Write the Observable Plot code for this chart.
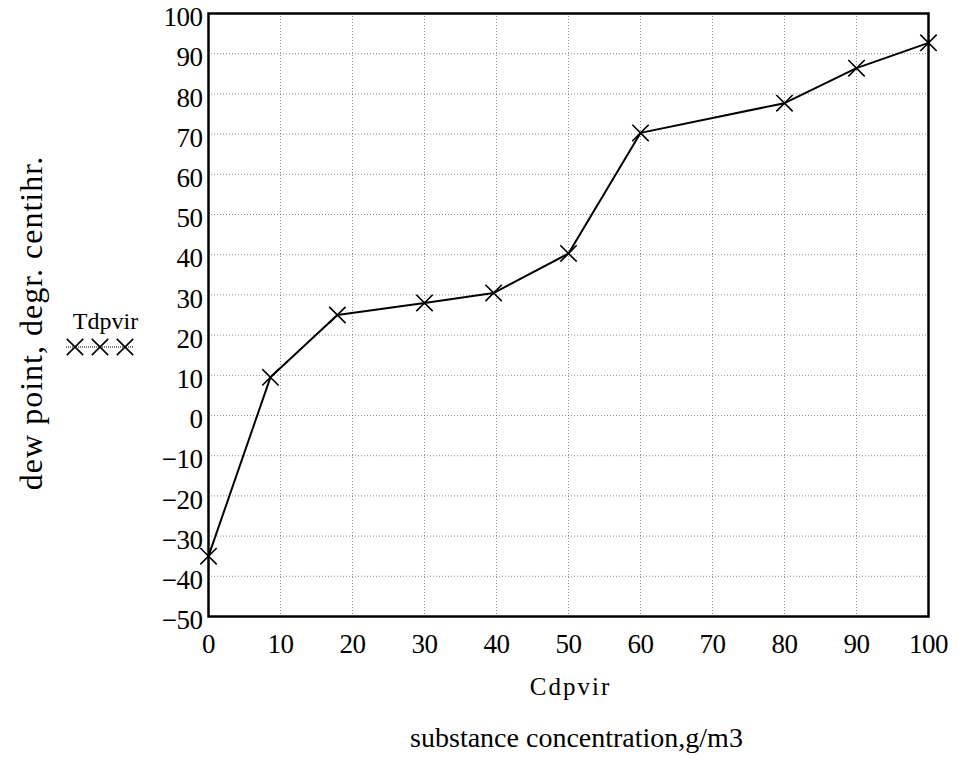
<!DOCTYPE html>
<html>
<head>
<meta charset="utf-8">
<script src="https://cdn.jsdelivr.net/npm/d3@7"></script>
<script src="https://cdn.jsdelivr.net/npm/@observablehq/plot@0.6"></script>
<style>
  html, body { margin: 0; padding: 0; background: #fff; }
  svg { font-family: "Liberation Serif", "Times New Roman", serif; }
</style>
</head>
<body>
<div id="chart"></div>
<script>
const concentration = [0, 8.6, 17.9, 30, 39.6, 50, 60, 80, 90, 100];
const dewPoint = [-35, 9.5, 25, 28, 30.5, 40.3, 70.3, 77.7, 86.4, 92.7];
const xTicks = [0, 10, 20, 30, 40, 50, 60, 70, 80, 90, 100];
const yTicks = [-50, -40, -30, -20, -10, 0, 10, 20, 30, 40, 50, 60, 70, 80, 90, 100];
const seriesName = "Tdpvir";
const xLabel = "Cdpvir";
const xTitle = "substance concentration,g/m3";
const yTitle = "dew point, degr. centihr.";

const data = concentration.map((c, i) => ({x: c, y: dewPoint[i]}));

const chart = Plot.plot({
  width: 958,
  height: 776,
  marginLeft: 208,
  marginRight: 30,
  marginTop: 13,
  marginBottom: 160,
  style: {fontFamily: "Liberation Serif, serif", fontSize: "22px", color: "#000", background: "#fff"},
  x: {domain: [0, 100], ticks: xTicks, label: null},
  y: {domain: [-50, 100], ticks: yTicks, label: null},
  marks: [
    Plot.gridX(xTicks, {stroke: "#444", strokeOpacity: 0.6, strokeDasharray: "1,2"}),
    Plot.gridY(yTicks, {stroke: "#444", strokeOpacity: 0.6, strokeDasharray: "1,2"}),
    Plot.axisX(xTicks, {tickSize: 0, tickPadding: 17, fontSize: 27, tickFormat: d => String(d)}),
    Plot.axisY(yTicks, {tickSize: 0, tickPadding: 6, fontSize: 27, dy: 4}),
    Plot.line(data, {x: "x", y: "y", stroke: "#000", strokeWidth: 2}),
    Plot.dot(data, {x: "x", y: "y", symbol: "times", r: 7.5, stroke: "#000", strokeWidth: 1.6}),
    Plot.frame({stroke: "#000", strokeWidth: 2.5}),
    Plot.text([xLabel], {text: d => d, frameAnchor: "bottom", dx: 2, dy: 78, fontSize: 25}),
    Plot.text([xTitle], {text: d => d, frameAnchor: "bottom", dx: 8, dy: 130, fontSize: 28}),
    Plot.text([yTitle], {text: d => d, frameAnchor: "left", textAnchor: "middle", dx: -177, dy: 8, rotate: -90, fontSize: 32}),
    Plot.text([seriesName], {text: d => d, frameAnchor: "left", textAnchor: "middle", dx: -103, dy: 6, fontSize: 24})
  ]
});

const svg = d3.select(chart);
svg.selectAll("text").filter(function () { return this.textContent === yTitle; }).style("letter-spacing", "1px");
svg.selectAll("text").filter(function () { return this.textContent === xLabel; }).style("letter-spacing", "2px");
svg.selectAll("g[aria-label='x-axis tick label'] text, g[aria-label='y-axis tick label'] text").style("letter-spacing", "-0.5px");

// legend sample line with markers
const lg = svg.append("g").attr("stroke", "#000").attr("fill", "none");
lg.append("line").attr("x1", 66).attr("x2", 134).attr("y1", 347).attr("y2", 347).attr("stroke-width", 1).attr("stroke-dasharray", "1,1");
const sym = d3.symbol(d3.symbolTimes, Math.PI * 7.5 * 7.5);
[75, 100, 125].forEach(cx => {
  lg.append("path").attr("d", sym()).attr("transform", `translate(${cx},347)`).attr("stroke-width", 1.6);
});

document.getElementById("chart").appendChild(chart);
</script>
</body>
</html>
